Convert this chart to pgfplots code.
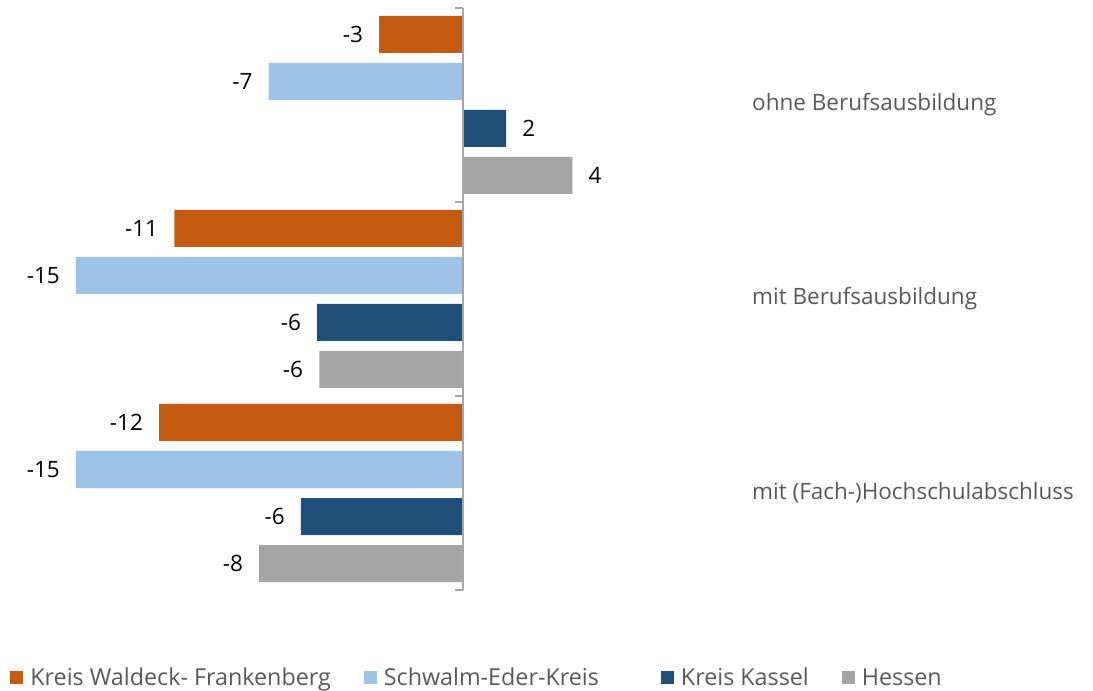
\documentclass[border=0pt]{standalone}
\usepackage{pgfplots}
\usepackage{pgfplotstable}
\pgfplotsset{compat=1.18}
\usepackage{fontspec}
\setmainfont{Open Sans}
\definecolor{cOr}{HTML}{C55A11}
\definecolor{cLb}{HTML}{9DC3E6}
\definecolor{cDb}{HTML}{1F4E79}
\definecolor{cGr}{HTML}{A5A5A5}
\definecolor{txt}{HTML}{595959}
\definecolor{axl}{HTML}{A6A6A6}

% y: 2 = ohne Berufsausbildung, 1 = mit Berufsausbildung, 0 = mit (Fach-)Hochschulabschluss
\pgfplotstableread{
x y m
-3.25 2 -3
-11.19 1 -11
-11.78 0 -12
}\tWF
\pgfplotstableread{
x y m
-7.53 2 -7
-15.0 1 -15
-15.0 0 -15
}\tSE
\pgfplotstableread{
x y m
1.67 2 2
-5.65 1 -6
-6.28 0 -6
}\tKK
\pgfplotstableread{
x y m
4.24 2 4
-5.57 1 -6
-7.90 0 -8
}\tHE

\newcommand{\fs}{\fontsize{22.5bp}{27bp}\selectfont}
\newcommand{\fl}{\fontsize{23.3bp}{28bp}\selectfont}

\begin{document}
\begin{tikzpicture}
\path[use as bounding box] (-10.2bp,-101bp) rectangle (1082.8bp,590bp);
\begin{axis}[
  at={(0,0)}, anchor=south west,
  scale only axis, width=734.8bp, height=582bp,
  xbar, bar width=37bp,
  xmin=-17.55, xmax=10.93,
  ymin=-0.5, ymax=2.5,
  hide x axis,
  y axis line style={draw=none},
  ytick={0,1,2},
  yticklabels={mit (Fach-)Hochschulabschluss, mit Berufsausbildung, ohne Berufsausbildung},
  yticklabel pos=right,
  major tick length=0pt,
  yticklabel style={anchor=west, text=txt, font=\fs, inner xsep=0pt, xshift=7bp},
  clip=false,
  point meta=explicit,
  nodes near coords={\pgfmathprintnumber[fixed,precision=0,assume math mode=true]{\pgfplotspointmeta}},
  nodes near coords align=horizontal,
  every node near coord/.append style={font=\fs, text=black, inner xsep=16bp},
  legend columns=4,
  legend style={draw=none, fill=none, at={(0,-0.151)}, anchor=west, font=\fl, text=txt,
    inner xsep=0pt,
    /tikz/every odd column/.append style={column sep=5bp},
    /tikz/column 2/.style={column sep=31bp},
    /tikz/column 4/.style={column sep=60bp},
    /tikz/column 6/.style={column sep=31bp}},
  legend image code/.code={\fill[#1,draw=none] (0bp,-6.5bp) rectangle (13bp,6.5bp);},
]
\addplot[fill=cOr, draw=none, bar shift=70.5bp] table[x=x, y=y, meta=m] {\tWF};
\addplot[fill=cLb, draw=none, bar shift=23.5bp] table[x=x, y=y, meta=m] {\tSE};
\addplot[fill=cDb, draw=none, bar shift=-23.5bp] table[x=x, y=y, meta=m] {\tKK};
\addplot[fill=cGr, draw=none, bar shift=-70.5bp] table[x=x, y=y, meta=m] {\tHE};
\legend{Kreis Waldeck- Frankenberg, Schwalm-Eder-Kreis, Kreis Kassel, Hessen}
\draw[axl, line width=1.3bp] (axis cs:0,-0.5) -- (axis cs:0,2.5);
\draw[axl, line width=1.3bp] (axis cs:0,-0.5) -- ([xshift=-8bp]axis cs:0,-0.5);
\draw[axl, line width=1.3bp] (axis cs:0,0.5) -- ([xshift=-8bp]axis cs:0,0.5);
\draw[axl, line width=1.3bp] (axis cs:0,1.5) -- ([xshift=-8bp]axis cs:0,1.5);
\draw[axl, line width=1.3bp] (axis cs:0,2.5) -- ([xshift=-8bp]axis cs:0,2.5);
\end{axis}
\end{tikzpicture}
\end{document}
